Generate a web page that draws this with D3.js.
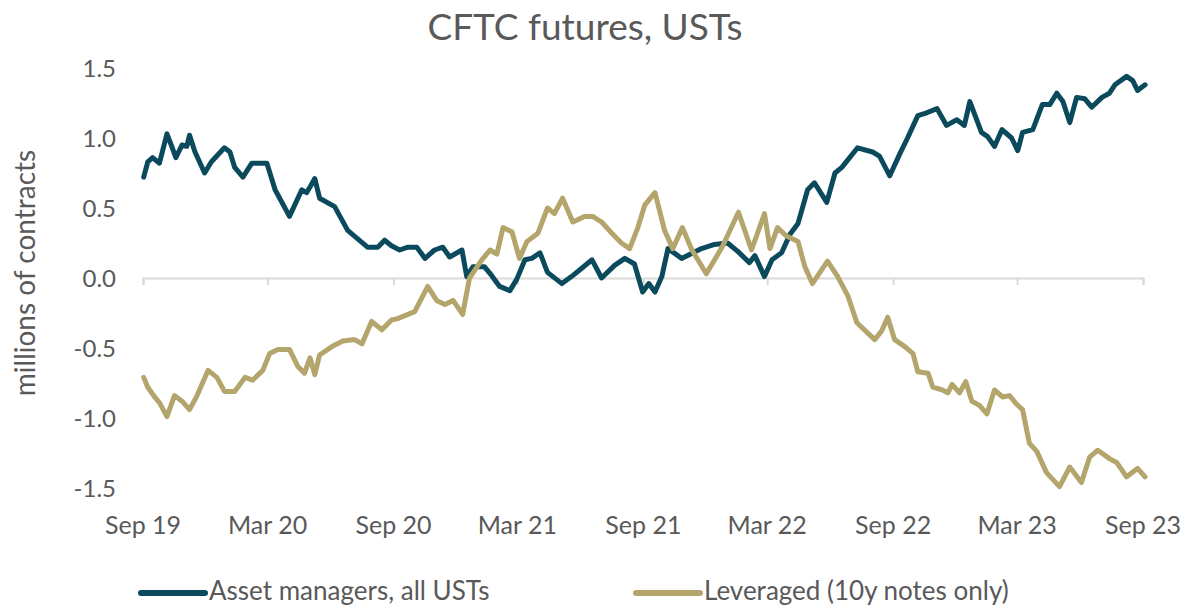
<!DOCTYPE html>
<html>
<head>
<meta charset="utf-8">
<script src="https://cdn.jsdelivr.net/npm/d3@7"></script>
<style>
  html, body { margin: 0; padding: 0; background: #ffffff; }
  svg { display: block; }
  text { font-family: Lato, "Open Sans", sans-serif; fill: #595959; }
</style>
</head>
<body>
<svg id="chart" width="1190" height="607"></svg>
<script>
// ---------- DATA ----------
const title = "CFTC futures, USTs";
const yAxisTitle = "millions of contracts";
const seriesNames = ["Asset managers, all USTs", "Leveraged (10y notes only)"];
const yTicks = [1.5, 1.0, 0.5, 0.0, -0.5, -1.0, -1.5];
const xTickDates = ["2019-09-01","2020-03-01","2020-09-01","2021-03-01","2021-09-01","2022-03-01","2022-09-01","2023-03-01","2023-09-01"];

const assetDates = [
"2019-09-02","2019-09-08","2019-09-15","2019-09-25","2019-10-06","2019-10-13","2019-10-19","2019-10-28","2019-11-04","2019-11-08",
"2019-11-16","2019-11-30","2019-12-10","2019-12-29","2020-01-06","2020-01-13","2020-01-25","2020-02-07","2020-02-29","2020-03-12",
"2020-04-02","2020-04-20","2020-04-27","2020-05-02","2020-05-09","2020-05-16","2020-06-07","2020-06-26","2020-07-25","2020-08-09",
"2020-08-19","2020-08-29","2020-09-10","2020-09-22","2020-10-05","2020-10-17","2020-10-31","2020-11-12","2020-11-22","2020-12-10",
"2020-12-17","2020-12-26","2021-01-12","2021-01-22","2021-02-03","2021-02-18","2021-02-28","2021-03-12","2021-03-22","2021-04-03",
"2021-04-14","2021-05-05","2021-05-19","2021-06-03","2021-06-18","2021-07-02","2021-07-21","2021-08-05","2021-08-19","2021-08-31",
"2021-09-09","2021-09-18","2021-09-28","2021-10-07","2021-10-27","2021-11-25","2021-12-14","2022-01-02","2022-01-17","2022-02-03",
"2022-02-11","2022-02-25","2022-03-08","2022-03-22","2022-04-03","2022-04-15","2022-04-29","2022-05-09","2022-05-27","2022-06-08",
"2022-06-18","2022-07-11","2022-08-02","2022-08-12","2022-08-27","2022-09-11","2022-09-22","2022-10-07","2022-10-20","2022-11-04",
"2022-11-18","2022-12-03","2022-12-14","2022-12-22","2023-01-08","2023-01-17","2023-01-27","2023-02-07","2023-02-21","2023-03-02",
"2023-03-09","2023-03-24","2023-04-07","2023-04-18","2023-04-28","2023-05-07","2023-05-17","2023-05-27","2023-06-08","2023-06-18",
"2023-07-03","2023-07-14","2023-07-22","2023-08-08","2023-08-17","2023-08-24","2023-09-04"];
const assetValues = [
0.72,0.83,0.86,0.82,1.03,0.94,0.86,0.95,0.94,1.02,
0.90,0.75,0.83,0.93,0.90,0.79,0.72,0.82,0.82,0.63,
0.44,0.63,0.61,0.65,0.71,0.57,0.51,0.34,0.22,0.22,
0.27,0.23,0.20,0.22,0.22,0.14,0.20,0.22,0.15,0.20,
0.01,0.08,0.08,0.02,-0.06,-0.09,-0.01,0.13,0.14,0.18,
0.04,-0.04,0.01,0.07,0.13,0.00,0.09,0.14,0.10,-0.10,
-0.04,-0.10,0.01,0.21,0.14,0.21,0.24,0.25,0.19,0.11,
0.16,0.01,0.13,0.18,0.31,0.39,0.63,0.68,0.54,0.75,
0.79,0.93,0.90,0.87,0.73,0.89,1.00,1.16,1.18,1.21,
1.09,1.13,1.09,1.26,1.04,1.01,0.94,1.06,1.00,0.91,
1.04,1.06,1.24,1.24,1.32,1.26,1.11,1.29,1.28,1.22,
1.29,1.32,1.38,1.44,1.41,1.34,1.38];

const levDates = [
"2019-09-02","2019-09-08","2019-09-18","2019-09-25","2019-10-06","2019-10-17","2019-10-28","2019-11-08","2019-11-18","2019-12-05",
"2019-12-18","2019-12-29","2020-01-13","2020-01-28","2020-02-08","2020-02-23","2020-03-04","2020-03-16","2020-04-02","2020-04-14",
"2020-04-24","2020-05-02","2020-05-09","2020-05-16","2020-06-03","2020-06-19","2020-07-06","2020-07-17","2020-07-31","2020-08-15",
"2020-08-29","2020-09-07","2020-10-02","2020-10-21","2020-11-03","2020-11-15","2020-11-27","2020-12-11","2020-12-21","2021-01-08",
"2021-01-20","2021-01-30","2021-02-08","2021-02-21","2021-03-04","2021-03-15","2021-03-31","2021-04-14","2021-04-24","2021-05-06",
"2021-05-21","2021-06-07","2021-06-19","2021-07-02","2021-07-17","2021-07-31","2021-08-12","2021-08-24","2021-09-03","2021-09-18",
"2021-10-02","2021-10-14","2021-10-28","2021-11-11","2021-12-02","2021-12-25","2022-01-18","2022-02-06","2022-02-25","2022-03-05",
"2022-03-16","2022-03-29","2022-04-15","2022-04-25","2022-05-06","2022-05-28","2022-06-12","2022-06-27","2022-07-10","2022-08-05",
"2022-08-15","2022-08-24","2022-09-03","2022-09-18","2022-09-30","2022-10-07","2022-10-22","2022-10-29","2022-11-12","2022-11-20",
"2022-11-26","2022-12-07","2022-12-16","2022-12-25","2023-01-05","2023-01-16","2023-01-27","2023-02-08","2023-02-18","2023-02-28",
"2023-03-09","2023-03-19","2023-03-30","2023-04-13","2023-05-02","2023-05-17","2023-06-03","2023-06-15","2023-06-27","2023-07-14",
"2023-07-25","2023-08-08","2023-08-24","2023-09-04"];
const levValues = [
-0.71,-0.78,-0.85,-0.89,-0.99,-0.84,-0.88,-0.94,-0.85,-0.66,
-0.71,-0.81,-0.81,-0.71,-0.73,-0.66,-0.54,-0.51,-0.51,-0.63,
-0.68,-0.57,-0.69,-0.55,-0.49,-0.45,-0.44,-0.47,-0.31,-0.37,
-0.30,-0.29,-0.24,-0.06,-0.16,-0.19,-0.16,-0.26,0.00,0.13,
0.20,0.17,0.36,0.33,0.14,0.26,0.32,0.50,0.46,0.57,
0.40,0.44,0.44,0.40,0.32,0.25,0.21,0.36,0.52,0.61,
0.34,0.21,0.36,0.20,0.03,0.22,0.47,0.20,0.46,0.21,
0.36,0.30,0.26,0.08,-0.04,0.12,0.01,-0.13,-0.32,-0.44,
-0.38,-0.28,-0.44,-0.49,-0.54,-0.67,-0.68,-0.78,-0.80,-0.82,
-0.76,-0.82,-0.74,-0.88,-0.91,-0.97,-0.80,-0.85,-0.84,-0.90,
-0.94,-1.18,-1.24,-1.39,-1.49,-1.35,-1.46,-1.28,-1.23,-1.29,
-1.32,-1.42,-1.36,-1.42];

const colors = ["#0b4a5d", "#b4a56c"];

// ---------- CHART ----------
const parse = d3.timeParse("%Y-%m-%d");
const svg = d3.select("#chart");

const x = d3.scaleTime()
  .domain([parse("2019-09-01"), parse("2023-09-01")])
  .range([143, 1143]);
const y = d3.scaleLinear().domain([-1.5, 1.5]).range([488, 68]);

// title
svg.append("text")
  .attr("x", 585).attr("y", 40)
  .attr("text-anchor", "middle")
  .style("font-size", "37px")
  .text(title);

// y axis title
svg.append("text")
  .attr("transform", "translate(35,273) rotate(-90)")
  .attr("text-anchor", "middle")
  .style("font-size", "28px")
  .text(yAxisTitle);

// y tick labels
const fmtY = d => d3.format(".1f")(d).replace("\u2212", "-");
svg.append("g").selectAll("text").data(yTicks).join("text")
  .attr("x", 116).attr("y", d => y(d))
  .attr("dy", "0.36em")
  .attr("text-anchor", "end")
  .style("font-size", "24px")
  .text(fmtY);

// zero axis with ticks
const xAxis = d3.axisBottom(x)
  .tickValues(xTickDates.map(parse))
  .tickSize(7)
  .tickFormat("");
const gx = svg.append("g").attr("transform", `translate(0,${y(0)})`).call(xAxis);
gx.select(".domain").attr("stroke", "#d9d9d9").attr("stroke-width", 2);
gx.selectAll(".tick line").attr("stroke", "#d9d9d9").attr("stroke-width", 2);

// x tick labels (low position)
svg.append("g").selectAll("text").data(xTickDates).join("text")
  .attr("x", d => x(parse(d))).attr("y", 534)
  .attr("text-anchor", "middle")
  .style("font-size", "25px")
  .text(d => d3.timeFormat("%b %y")(parse(d)));

// lines
const line = d3.line()
  .x(d => x(d.date))
  .y(d => y(d.value));

const assetData = assetDates.map((d, i) => ({date: parse(d), value: assetValues[i]}));
const levData = levDates.map((d, i) => ({date: parse(d), value: levValues[i]}));

svg.append("path").datum(assetData)
  .attr("fill", "none").attr("stroke", colors[0])
  .attr("stroke-width", 5).attr("stroke-linejoin", "round").attr("stroke-linecap", "round")
  .attr("d", line);
svg.append("path").datum(levData)
  .attr("fill", "none").attr("stroke", colors[1])
  .attr("stroke-width", 5).attr("stroke-linejoin", "round").attr("stroke-linecap", "round")
  .attr("d", line);

// legend
const legendItems = [
  {name: seriesNames[0], color: colors[0], x0: 141},
  {name: seriesNames[1], color: colors[1], x0: 636}
];
const lg = svg.append("g");
legendItems.forEach(it => {
  lg.append("line")
    .attr("x1", it.x0).attr("x2", it.x0 + 64)
    .attr("y1", 593).attr("y2", 593)
    .attr("stroke", it.color).attr("stroke-width", 6).attr("stroke-linecap", "round");
  lg.append("text")
    .attr("x", it.x0 + 68).attr("y", 600)
    .style("font-size", "26px")
    .text(it.name);
});
</script>
</body>
</html>
